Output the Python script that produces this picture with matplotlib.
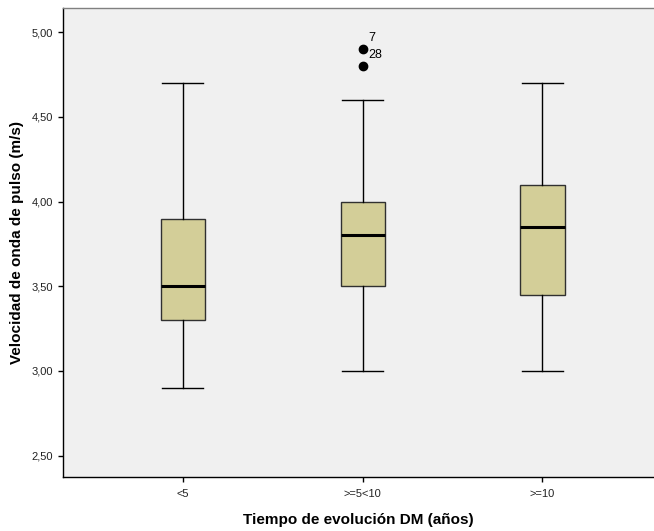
import matplotlib
matplotlib.use('Agg')
import matplotlib.pyplot as plt
from matplotlib.ticker import FuncFormatter

# Tiempo de evolución DM groups and box statistics
groups = ['<5', '>=5<10', '>=10']
whislo = [2.90, 3.00, 3.00]
q1 = [3.30, 3.50, 3.45]
med = [3.50, 3.80, 3.85]
q3 = [3.90, 4.00, 4.10]
whishi = [4.70, 4.60, 4.70]
outliers = [[], [4.90, 4.80], []]
outlier_ids = [[], ['7', '28'], []]

plt.rcParams['font.family'] = ['Liberation Sans', 'DejaVu Sans']

fig = plt.figure(figsize=(6.54, 5.31), dpi=100)
ax = fig.add_axes([0.0959, 0.1017, 0.9041, 0.8833])
ax.set_facecolor('#F0F0F0')

stats = []
for i, g in enumerate(groups):
    stats.append(dict(label=g, whislo=whislo[i], q1=q1[i], med=med[i],
                      q3=q3[i], whishi=whishi[i], fliers=outliers[i]))

ax.bxp(stats, positions=range(len(groups)), widths=0.245, capwidths=0.225,
       patch_artist=True,
       boxprops=dict(facecolor='#D3CE98', edgecolor='#303030', linewidth=1.0),
       medianprops=dict(color='black', linewidth=2.2),
       whiskerprops=dict(color='black', linewidth=1.0),
       capprops=dict(color='black', linewidth=1.0),
       flierprops=dict(marker='o', markerfacecolor='black',
                       markeredgecolor='black', markersize=6))

# case labels for the outliers
for i in range(len(groups)):
    for v, lab in zip(outliers[i], outlier_ids[i]):
        ax.annotate(lab, (i, v), xytext=(4, 4), textcoords='offset points',
                    fontsize=9, va='bottom', ha='left')

ax.set_xlim(-0.667, 2.62)
ax.set_ylim(2.374, 5.143)
ax.set_yticks([2.5, 3.0, 3.5, 4.0, 4.5, 5.0])
ax.yaxis.set_major_formatter(FuncFormatter(lambda v, p: f'{v:.2f}'.replace('.', ',')))
ax.set_xticks(range(len(groups)))
ax.set_xticklabels(groups)
ax.tick_params(axis='both', labelsize=8, length=3.6, width=1, color='black',
               labelcolor='#222222', pad=3.5)
ax.tick_params(axis='x', pad=5)

ax.spines['right'].set_visible(False)
ax.spines['top'].set_color('#808080')
ax.spines['top'].set_linewidth(1.0)
ax.spines['left'].set_linewidth(1.0)
ax.spines['bottom'].set_linewidth(1.0)

ax.set_ylabel('Velocidad de onda de pulso (m/s)', fontsize=11, fontweight='bold', labelpad=5)
ax.set_xlabel('Tiempo de evolución DM (años)', fontsize=11, fontweight='bold', labelpad=10)

fig.savefig('out.png', dpi=100)
